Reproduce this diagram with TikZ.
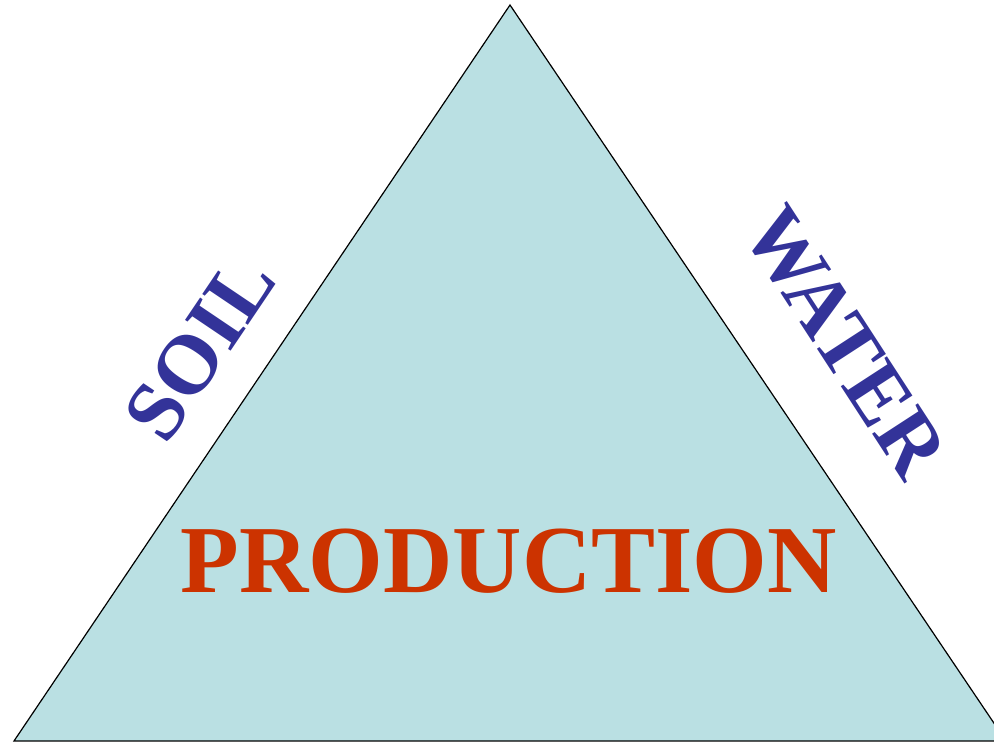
\documentclass[tikz,border=0pt]{standalone}
\usepackage{fontspec}
\setmainfont{Liberation Serif}
\definecolor{trifill}{HTML}{BAE0E3}
\definecolor{sideblue}{HTML}{333399}
\definecolor{prodred}{HTML}{CC3300}
\begin{document}
\begin{tikzpicture}[x=1pt,y=1pt,
  side/.style={text=sideblue,font=\fontsize{84}{84}\selectfont\bfseries,inner sep=0pt},
  prod/.style={text=prodred,font=\fontsize{96}{96}\selectfont\bfseries,inner sep=0pt}]
\useasboundingbox (0,0) rectangle (994,744);
\coordinate (apex) at (510,739);
\coordinate (bl) at (14,3);
\coordinate (br) at (1006,3);
\begin{scope}
\clip (0,0) rectangle (994,744);
\filldraw[fill=trifill,draw=black,line width=1.2pt,line join=miter] (apex) -- (br) -- (bl) -- cycle;
\end{scope}
\node[prod,anchor=base] (production) at (509,151) {PRODUCTION};
\node[side,rotate=56] (soil) at (200,396) {SOIL};
\node[side,rotate=-57] (water) at (845,402) {WATER};
\end{tikzpicture}
\end{document}
